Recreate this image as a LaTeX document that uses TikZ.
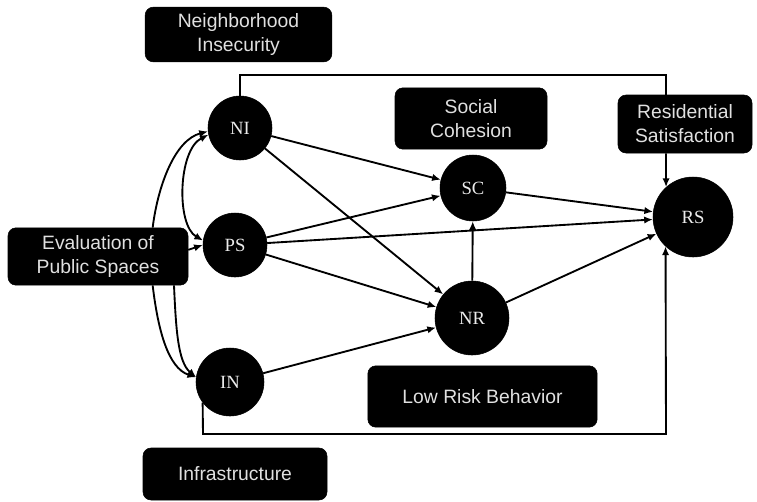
\documentclass[tikz,border=0pt]{standalone}
\usepackage{fontspec}
\setmainfont{Liberation Serif}
\newfontfamily\boxfont{Liberation Sans}
\usetikzlibrary{arrows.meta}
\begin{document}
\begin{tikzpicture}[x=0.75pt,y=-0.75pt,
  latent/.style={circle,fill=black,draw=black,minimum size=#1,inner sep=0pt,text=black!8,
    font=\fontsize{14}{16}\selectfont},
  labelbox/.style={rounded corners=6pt,fill=black,draw=black,text=black!12,align=center,inner sep=0pt,
    font=\boxfont\fontsize{14.5}{18}\selectfont},
  arr/.style={-{Latex[length=6.5pt,width=5.5pt]},line width=1.4pt},
  darr/.style={{Latex[length=6.5pt,width=5.5pt]}-{Latex[length=6.5pt,width=5.5pt]},line width=1.4pt},
  ln/.style={line width=1.4pt}]
\useasboundingbox (0,0) rectangle (757,501);

% latent variables
\node[latent=48pt]   (NI) at (240,128) {NI};
\node[latent=48pt]   (PS) at (235,245) {PS};
\node[latent=51pt]   (IN) at (230,382) {IN};
\node[latent=49.5pt] (SC) at (473,188) {SC};
\node[latent=55.5pt] (NR) at (472,318) {NR};
\node[latent=60pt]   (RS) at (693,217) {RS};

% label boxes
\node[labelbox,minimum width=140pt,minimum height=41pt]   (NIbox) at (238.5,34.5) {Neighborhood\\Insecurity};
\node[labelbox,minimum width=135pt,minimum height=43pt]   (Eval)  at (98,256.5) {Evaluation of\\Public Spaces};
\node[labelbox,minimum width=114pt,minimum height=46pt]   (SCbox) at (471,118.5) {Social\\Cohesion};
\node[labelbox,minimum width=100.5pt,minimum height=43.5pt] (RSbox) at (685,124) {Residential\\Satisfaction};
\node[labelbox,minimum width=172pt,minimum height=46pt]   (LRB)   at (482.5,396.5) {Low Risk Behavior};
\node[labelbox,minimum width=138pt,minimum height=39pt]   (Infra) at (235,474) {Infrastructure};

% frame
\coordinate (tl) at (240,75);
\coordinate (tr) at (666,75);
\coordinate (br) at (666,434);
\coordinate (bl) at (203,434);
\draw[ln] (NI.north) -- (tl) -- (tr) -- (tr |- RSbox.north);
\draw[arr] (tr |- RSbox.south) -- (RS.132.5);
\draw[arr] (IN.217.5) -- (bl) -- (br) -- (RS.227.5);

% structural paths
\draw[arr] (NI) -- (SC);
\draw[arr] (NI) -- (NR);
\draw[arr] (PS) -- (SC);
\draw[arr] (PS) -- (RS);
\draw[arr] (PS) -- (NR);
\draw[arr] (IN) -- (NR);
\draw[arr] (SC) -- (RS);
\draw[arr] (NR) -- (SC);
\draw[arr] (NR) -- (RS);

% left curves
\draw[arr] ([xshift=41pt]Eval.north) .. controls (158,185) and (175,140) .. (NI.186);
\draw[darr] (NI.192) .. controls (178,150) and (176,225) .. (PS.172);
\draw[arr] ([yshift=5pt]Eval.east) -- (PS.180);
\draw[arr] ([xshift=41pt]Eval.south) .. controls (158,330) and (168,368) .. (IN.172);
\draw[arr] ([xshift=57pt]Eval.south) .. controls (176,330) and (178,362) .. (IN.172);
\end{tikzpicture}
\end{document}
